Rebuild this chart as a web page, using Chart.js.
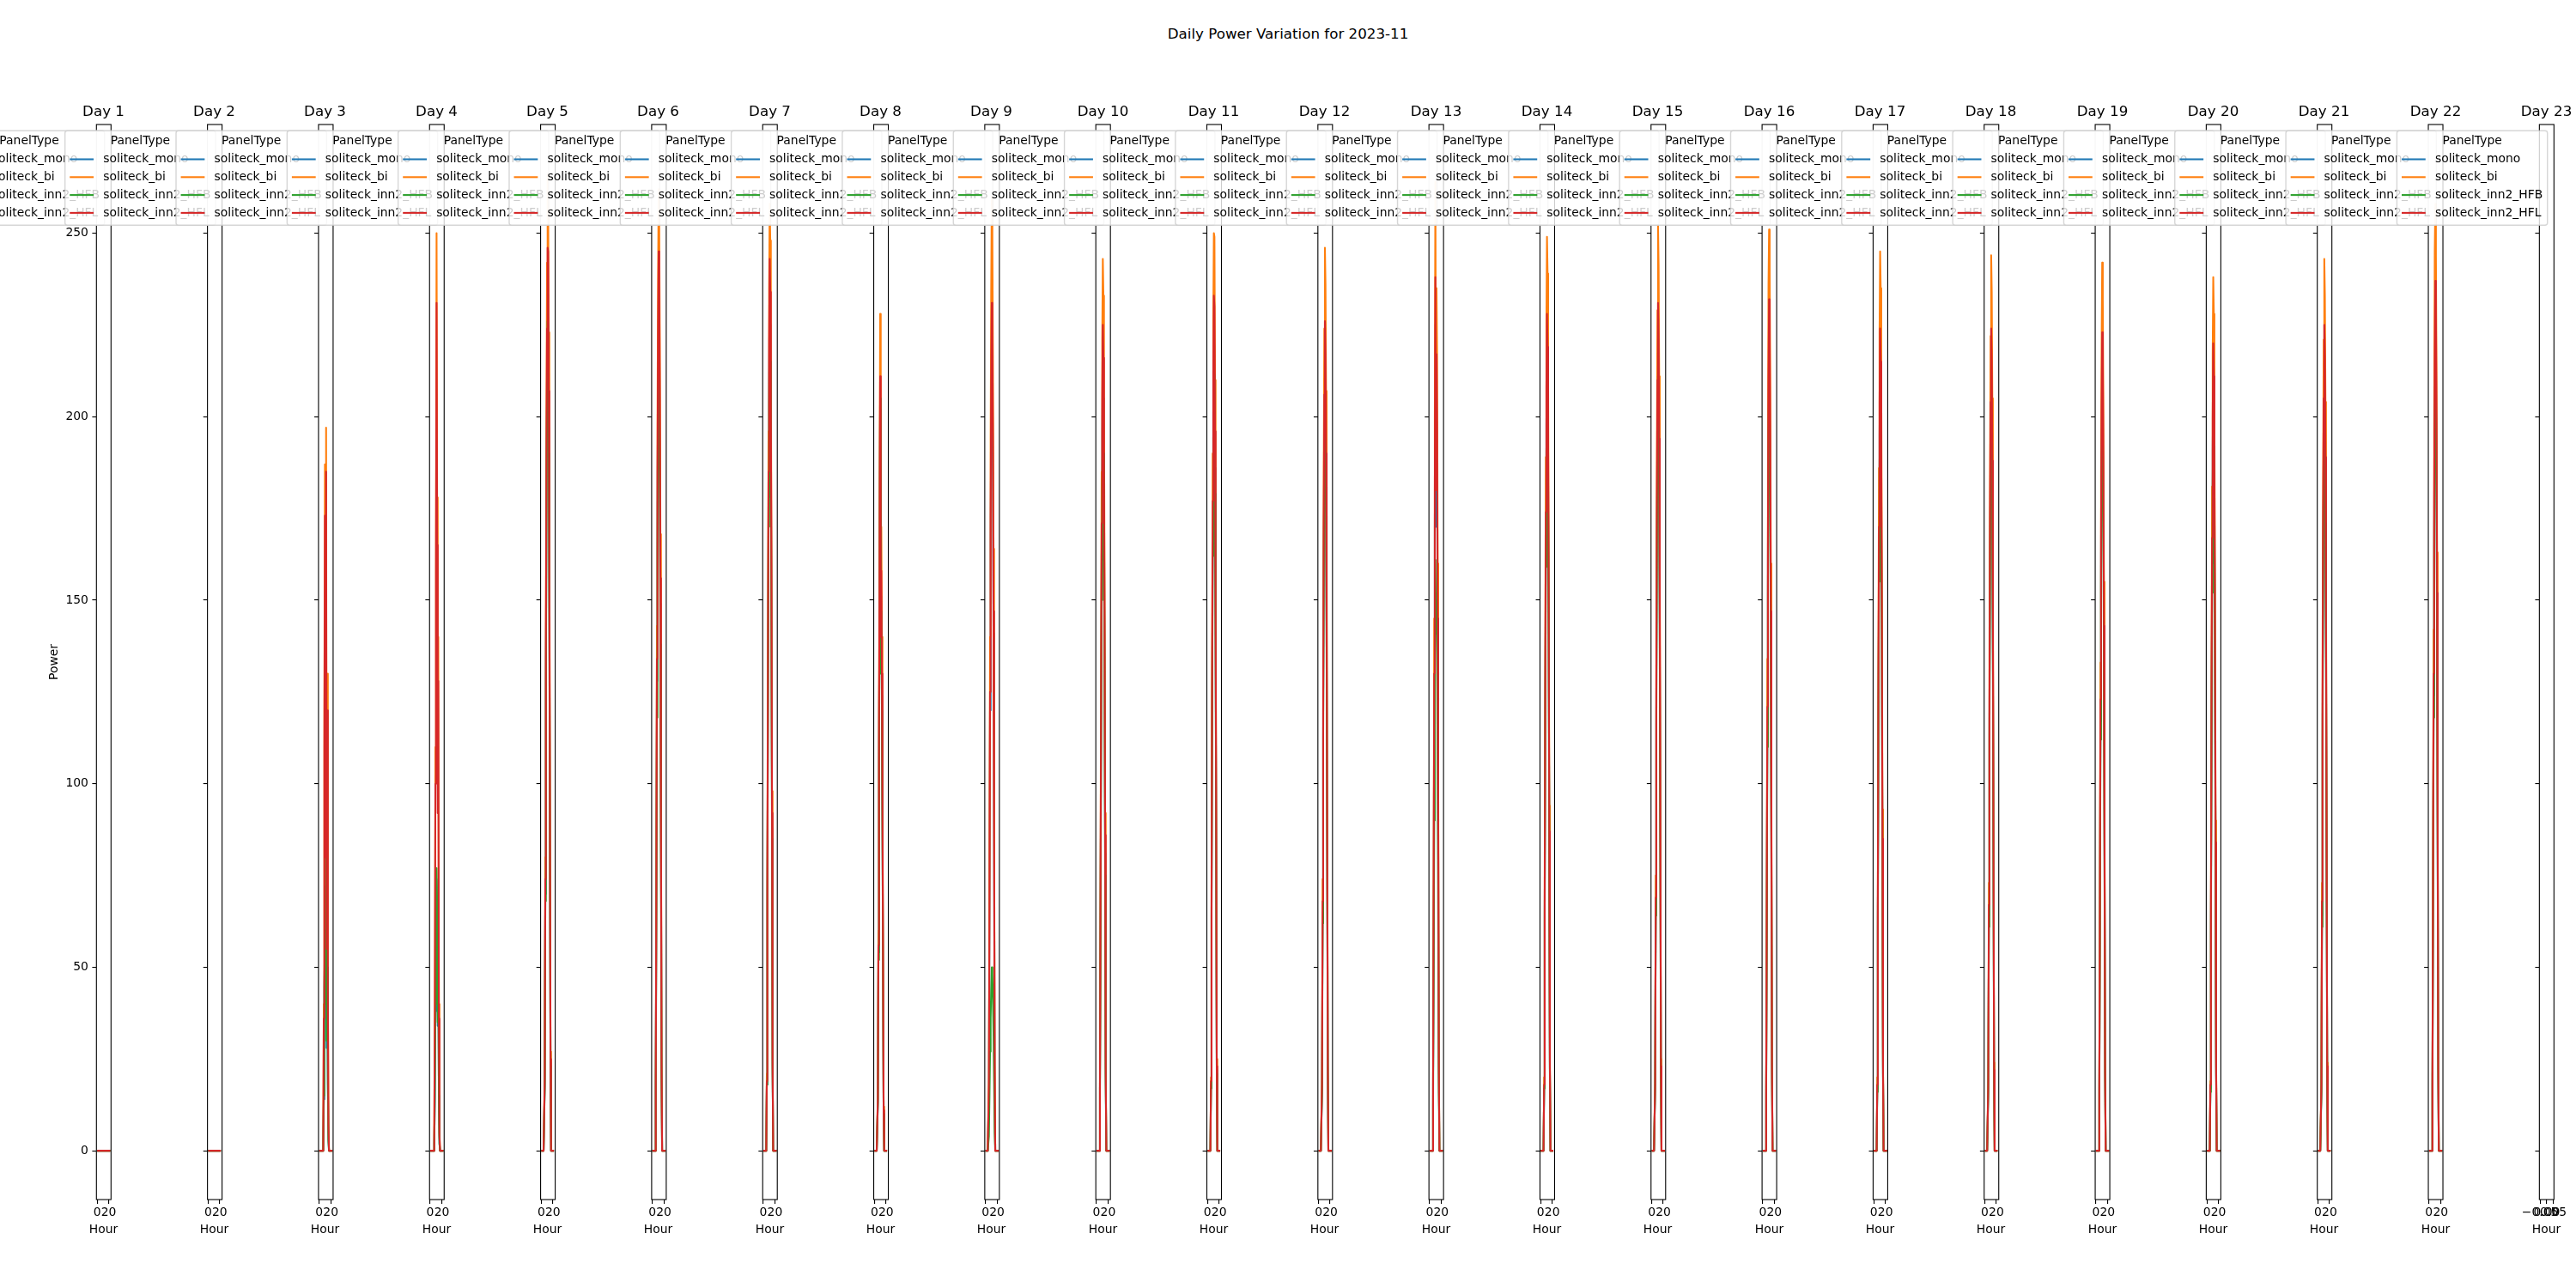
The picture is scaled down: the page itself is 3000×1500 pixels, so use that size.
<!DOCTYPE html>
<html><head><meta charset="utf-8">
<script src="https://cdn.jsdelivr.net/npm/chart.js@4.4.1/dist/chart.umd.min.js"></script>
<style>
html,body{margin:0;padding:0;background:#fff;}
body{width:3000px;height:1500px;position:relative;overflow:hidden;font-family:"DejaVu Sans",sans-serif;}
canvas{position:absolute;top:0;}
#suptitle{position:absolute;left:0;top:28.6px;width:3000px;text-align:center;font-size:16.7px;line-height:20px;color:#000;white-space:nowrap;}
</style></head><body>
<div id="suptitle">Daily Power Variation for 2023-11</div>
<script>
// ---------- data ----------
const chartTitle = 'Daily Power Variation for 2023-11';
const dayLabels = ['Day 1','Day 2','Day 3','Day 4','Day 5','Day 6','Day 7','Day 8','Day 9','Day 10','Day 11','Day 12','Day 13','Day 14','Day 15','Day 16','Day 17','Day 18','Day 19','Day 20','Day 21','Day 22','Day 23'];
const hours = [0,1,2,3,4,5,6,7,8,9,10,11,12,13,14,15,16,17,18,19,20,21,22,23];
const seriesNames = ['soliteck_mono','soliteck_bi','soliteck_inn2_HFB','soliteck_inn2_HFL'];
const seriesColors = ['#1f77b4','#ff7f0e','#2ca02c','#d62728'];
const legendTitle = 'PanelType';
const xAxisTitle = 'Hour';
const yAxisTitle = 'Power';
const yTicks = [0,50,100,150,200,250];
const hourTicks = [0,20];
const emptyDayTicks = [-0.05,0,0.05];
const emptyDayTickLabels = ['\u22120.05','0.00','0.05'];

const monoPower = [
[0,0,0,0,0,0,0,0,0,0,0,0,0,0,0,0,0,0,0,0,0,0,0,0],
[0,0,0,0,0,0,0,0,0,0,0,0,0,0,0,0,0,0,0,0,0,0,0,0],
[0,0,0,0,0,0,0,0,14,43,58,72,72,28,48,18,3,0,0,0,0,0,0,0],
[0,0,0,0,0,0,0,2,14,38,53,74,65,34,48,14,2,0,0,0,0,0,0,0],
[0,0,0,0,0,0,18,70,128,178,213,234,233,197,149,88,24,0,0,0,0,0,0,0],
[0,0,0,0,0,0,18,70,128,177,213,234,226,196,149,88,23,0,0,0,0,0,0,0],
[0,0,0,0,0,0,18,70,129,178,212,234,225,196,150,88,23,0,0,0,0,0,0,0],
[0,0,0,0,0,0,13,54,107,157,202,134,151,124,89,49,10,0,0,0,0,0,0,0],
[0,0,0,0,0,0,17,65,120,166,200,221,213,185,141,83,22,0,0,0,0,0,0,0],
[0,0,0,0,0,0,17,64,118,163,195,214,205,180,137,81,21,0,0,0,0,0,0,0],
[0,0,0,0,0,0,18,66,122,168,201,221,219,186,142,84,22,0,0,0,0,0,0,0],
[0,0,0,0,0,0,17,65,118,163,196,215,206,181,138,82,22,0,0,0,0,0,0,0],
[0,0,0,0,0,0,17,66,123,170,225,170,205,185,137,81,22,0,0,0,0,0,0,0],
[0,0,0,0,0,0,17,66,120,166,198,218,209,183,140,83,22,0,0,0,0,0,0,0],
[0,0,0,0,0,0,18,66,121,167,201,221,211,185,141,84,22,0,0,0,0,0,0,0],
[0,0,0,0,0,0,16,63,116,160,202,222,211,185,141,83,22,0,0,0,0,0,0,0],
[0,0,0,0,0,0,17,64,118,163,195,214,206,180,137,81,21,0,0,0,0,0,0,0],
[0,0,0,0,0,0,17,64,118,163,195,214,206,180,137,81,21,0,0,0,0,0,0,0],
[0,0,0,0,0,0,17,64,117,162,194,213,205,179,137,81,21,0,0,0,0,0,0,0],
[0,0,0,0,0,0,17,63,116,160,191,210,202,177,135,80,21,0,0,0,0,0,0,0],
[0,0,0,0,0,0,17,64,118,163,196,215,206,181,138,82,22,0,0,0,0,0,0,0],
[0,0,0,0,0,0,18,68,124,171,206,226,217,189,144,86,23,0,0,0,0,0,0,0],
[]
];
const biPower = [
[0,0,0,0,0,0,0,0,0,0,0,0,0,0,0,0,0,0,0,0,0,0,0,0],
[0,0,0,0,0,0,0,0,0,0,0,0,0,0,0,0,0,0,0,0,0,0,0,0],
[0,0,0,0,0,0,0,0,40,120,187,90,197,60,130,50,8,0,0,0,0,0,0,0],
[0,0,0,0,0,0,0,5,40,110,170,250,178,100,140,40,5,0,0,0,0,0,0,0],
[0,0,0,0,0,0,21,80,146,202,242,266,255,223,170,101,27,0,0,0,0,0,0,0],
[0,0,0,0,0,0,20,78,143,198,238,262,252,220,168,100,26,0,0,0,0,0,0,0],
[0,0,0,0,0,0,21,77,142,196,235,258,248,217,165,98,26,0,0,0,0,0,0,0],
[0,0,0,0,0,0,15,60,120,178,228,150,170,140,100,55,12,0,0,0,0,0,0,0],
[0,0,0,0,0,0,20,76,140,194,234,260,250,215,164,97,25,0,0,0,0,0,0,0],
[0,0,0,0,0,0,19,73,134,185,221,243,233,204,156,92,24,0,0,0,0,0,0,0],
[0,0,0,0,0,0,20,75,138,190,227,250,249,210,160,95,25,0,0,0,0,0,0,0],
[0,0,0,0,0,0,20,74,135,187,224,246,236,207,157,93,25,0,0,0,0,0,0,0],
[0,0,0,0,0,0,20,78,145,200,264,200,235,217,160,95,25,0,0,0,0,0,0,0],
[0,0,0,0,0,0,20,75,137,189,226,249,239,209,159,94,25,0,0,0,0,0,0,0],
[0,0,0,0,0,0,20,75,138,191,229,252,241,211,161,96,25,0,0,0,0,0,0,0],
[0,0,0,0,0,0,19,73,134,185,236,251,240,210,160,95,25,0,0,0,0,0,0,0],
[0,0,0,0,0,0,20,74,135,186,223,245,235,206,157,93,25,0,0,0,0,0,0,0],
[0,0,0,0,0,0,20,73,134,185,222,244,234,205,156,93,24,0,0,0,0,0,0,0],
[0,0,0,0,0,0,19,73,133,184,220,242,232,203,155,92,24,0,0,0,0,0,0,0],
[0,0,0,0,0,0,19,71,131,181,217,238,228,200,152,90,24,0,0,0,0,0,0,0],
[0,0,0,0,0,0,19,73,134,185,221,243,233,204,156,92,24,0,0,0,0,0,0,0],
[0,0,0,0,0,0,20,77,142,196,245,258,244,213,163,97,26,0,0,0,0,0,0,0],
[]
];
const hfbPower = [
[0,0,0,0,0,0,0,0,0,0,0,0,0,0,0,0,0,0,0,0,0,0,0,0],
[0,0,0,0,0,0,0,0,0,0,0,0,0,0,0,0,0,0,0,0,0,0,0,0],
[0,0,0,0,0,0,0,0,15,45,60,40,82,30,50,20,3,0,0,0,0,0,0,0],
[0,0,0,0,0,0,0,2,15,40,55,77,67,35,50,15,2,0,0,0,0,0,0,0],
[0,0,0,0,0,0,17,68,124,172,206,226,225,190,144,86,23,0,0,0,0,0,0,0],
[0,0,0,0,0,0,17,64,118,163,196,216,208,181,138,81,21,0,0,0,0,0,0,0],
[0,0,0,0,0,0,18,67,123,170,203,224,215,188,143,85,22,0,0,0,0,0,0,0],
[0,0,0,0,0,0,13,52,104,152,205,130,147,120,86,47,10,0,0,0,0,0,0,0],
[0,0,0,0,0,0,4,15,27,36,44,50,48,41,32,19,5,0,0,0,0,0,0,0],
[0,0,0,0,0,0,16,59,109,150,180,198,190,166,127,75,20,0,0,0,0,0,0,0],
[0,0,0,0,0,0,17,64,117,162,194,213,211,179,137,81,21,0,0,0,0,0,0,0],
[0,0,0,0,0,0,16,62,113,157,188,206,198,173,132,78,21,0,0,0,0,0,0,0],
[0,0,0,0,0,0,12,48,90,125,161,141,150,135,100,60,16,0,0,0,0,0,0,0],
[0,0,0,0,0,0,17,63,115,159,190,209,200,175,134,79,21,0,0,0,0,0,0,0],
[0,0,0,0,0,0,17,64,116,160,192,211,202,177,135,80,21,0,0,0,0,0,0,0],
[0,0,0,0,0,0,16,60,110,152,192,211,201,176,134,79,21,0,0,0,0,0,0,0],
[0,0,0,0,0,0,16,61,112,155,186,204,196,171,130,77,20,0,0,0,0,0,0,0],
[0,0,0,0,0,0,16,61,112,155,186,204,197,171,130,77,20,0,0,0,0,0,0,0],
[0,0,0,0,0,0,16,61,112,154,185,203,195,170,130,77,20,0,0,0,0,0,0,0],
[0,0,0,0,0,0,16,60,110,152,182,200,192,168,128,76,20,0,0,0,0,0,0,0],
[0,0,0,0,0,0,16,61,112,155,186,204,196,171,131,78,20,0,0,0,0,0,0,0],
[0,0,0,0,0,0,17,65,118,164,196,216,207,181,138,82,22,0,0,0,0,0,0,0],
[]
];
const hflPower = [
[0,0,0,0,0,0,0,0,0,0,0,0,0,0,0,0,0,0,0,0,0,0,0,0],
[0,0,0,0,0,0,0,0,0,0,0,0,0,0,0,0,0,0,0,0,0,0,0,0],
[0,0,0,0,0,0,0,0,36,110,173,80,185,55,120,45,7,0,0,0,0,0,0,0],
[0,0,0,0,0,0,0,4,36,100,158,231,165,92,128,36,4,0,0,0,0,0,0,0],
[0,0,0,0,0,0,19,74,135,187,224,246,245,207,157,93,25,0,0,0,0,0,0,0],
[0,0,0,0,0,0,19,73,134,185,222,245,236,205,156,92,24,0,0,0,0,0,0,0],
[0,0,0,0,0,0,19,73,134,185,221,243,234,204,156,92,24,0,0,0,0,0,0,0],
[0,0,0,0,0,0,14,56,112,164,211,140,158,130,93,51,11,0,0,0,0,0,0,0],
[0,0,0,0,0,0,18,68,125,173,209,231,222,193,147,87,23,0,0,0,0,0,0,0],
[0,0,0,0,0,0,18,68,124,171,205,225,216,189,144,86,23,0,0,0,0,0,0,0],
[0,0,0,0,0,0,19,70,128,177,212,233,230,196,149,89,23,0,0,0,0,0,0,0],
[0,0,0,0,0,0,18,68,124,172,206,226,217,190,145,86,23,0,0,0,0,0,0,0],
[0,0,0,0,0,0,18,70,130,180,238,180,217,196,145,86,23,0,0,0,0,0,0,0],
[0,0,0,0,0,0,18,69,126,174,208,228,219,192,146,87,23,0,0,0,0,0,0,0],
[0,0,0,0,0,0,18,69,127,175,210,231,221,194,148,88,23,0,0,0,0,0,0,0],
[0,0,0,0,0,0,17,66,121,167,211,232,221,193,147,87,23,0,0,0,0,0,0,0],
[0,0,0,0,0,0,18,67,123,170,204,224,215,188,143,85,22,0,0,0,0,0,0,0],
[0,0,0,0,0,0,18,67,123,170,204,224,215,188,143,85,22,0,0,0,0,0,0,0],
[0,0,0,0,0,0,18,67,123,169,203,223,214,187,143,85,22,0,0,0,0,0,0,0],
[0,0,0,0,0,0,18,66,121,167,200,220,211,185,141,84,22,0,0,0,0,0,0,0],
[0,0,0,0,0,0,18,68,124,171,205,225,216,189,144,86,23,0,0,0,0,0,0,0],
[0,0,0,0,0,0,19,71,130,180,216,237,228,199,152,90,24,0,0,0,0,0,0,0],
[]
];
const seriesData = [monoPower, biPower, hfbPower, hflPower];

// ---------- layout (pixels) ----------
const FONT = '"DejaVu Sans"';
const FS = 13.9, TFS = 16.7;
const AX0 = 112.3, AXSTEP = 129.32, AXW = 17, SIDE = 200, CW = 2*SIDE + AXW, CH = 1500;
const AX_TOP = 145, AX_BOTTOM = 1397;
const XAXIS_H = 25, HOUR_PAD_TOP = 1.66;
const Y_MIN = -13.3, Y_MAX = 279.6;
const HOUR_MIN = -1.15, HOUR_MAX = 24.15;
const EMPTY_MIN = -0.055, EMPTY_MAX = 0.055;

Chart.defaults.font.family = FONT;
Chart.defaults.color = '#000';

function drawLegend(chart){
  const {ctx, chartArea:a} = chart;
  ctx.save();
  ctx.font = FS + 'px ' + FONT;
  const bp = 0.4*FS, hl = 2*FS, htp = 0.8*FS;
  const tw = Math.max(...seriesNames.map(s => ctx.measureText(s).width));
  const w = bp + hl + htp + tw + bp;
  const h = 110;
  const right = a.right - 7.6, top = a.top + 7.3, left = right - w;
  const r = 2.8;
  ctx.beginPath();
  ctx.moveTo(left + r, top);
  ctx.lineTo(right - r, top); ctx.arcTo(right, top, right, top + r, r);
  ctx.lineTo(right, top + h - r); ctx.arcTo(right, top + h, right - r, top + h, r);
  ctx.lineTo(left + r, top + h); ctx.arcTo(left, top + h, left, top + h - r, r);
  ctx.lineTo(left, top + r); ctx.arcTo(left, top, left + r, top, r);
  ctx.closePath();
  ctx.fillStyle = 'rgba(255,255,255,0.8)';
  ctx.fill();
  ctx.strokeStyle = 'rgba(204,204,204,0.8)';
  ctx.lineWidth = 1.39;
  ctx.stroke();
  ctx.fillStyle = '#000';
  ctx.textBaseline = 'middle';
  ctx.textAlign = 'center';
  ctx.fillText(legendTitle, left + w/2, top + 12.2);
  ctx.textAlign = 'left';
  seriesNames.forEach((name, k) => {
    const y = top + 33.2 + k*20.8;
    ctx.strokeStyle = seriesColors[k];
    ctx.lineWidth = 2.08;
    ctx.beginPath();
    ctx.moveTo(left + bp, y); ctx.lineTo(left + bp + hl, y);
    ctx.stroke();
    ctx.fillText(name, left + bp + hl + htp, y);
  });
  ctx.restore();
}

const subplotPlugin = {
  id: 'subplotFrame',
  afterDatasetsDraw(chart){
    const {ctx, chartArea:a} = chart;
    ctx.save();
    ctx.strokeStyle = '#000';
    ctx.lineWidth = 1.1;
    ctx.strokeRect(a.left, a.top, a.right - a.left, a.bottom - a.top);
    ctx.restore();
  },
  afterDraw(chart){ drawLegend(chart); }
};

dayLabels.forEach((label, i) => {
  const axLeft = AX0 + i*AXSTEP;
  const cl = Math.floor(axLeft) - SIDE;
  const leftW = axLeft - cl;
  const rightW = CW - leftW - AXW;
  const canvas = document.createElement('canvas');
  canvas.width = CW; canvas.height = CH;
  canvas.style.left = cl + 'px';
  canvas.style.width = CW + 'px'; canvas.style.height = CH + 'px';
  document.body.appendChild(canvas);

  const hasData = monoPower[i].length > 0;
  const datasets = seriesNames.map((name, k) => ({
    label: name,
    data: seriesData[k][i].map((v, j) => ({x: hours[j], y: v})),
    borderColor: seriesColors[k],
    backgroundColor: seriesColors[k],
    borderWidth: 2.08,
    pointRadius: 0,
    tension: 0,
    fill: false,
    borderJoinStyle: 'round',
    borderCapStyle: 'butt',
    order: 3 - k
  }));
  const xTickVals = hasData ? hourTicks : emptyDayTicks;
  const isFirst = i === 0;
  const hourLine = FS*1.2;

  new Chart(canvas, {
    type: 'line',
    data: {datasets},
    options: {
      responsive: false,
      animation: false,
      devicePixelRatio: 1,
      events: [],
      layout: {padding: {left: 0, right: 0, top: 121, bottom: CH - AX_BOTTOM - XAXIS_H - hourLine - HOUR_PAD_TOP}},
      plugins: {
        legend: {display: false},
        tooltip: {enabled: false},
        title: {display: true, text: label, color: '#000', font: {size: TFS, weight: 'normal'}, padding: {top: 0, bottom: AX_TOP - 121 - TFS*1.2}},
        subtitle: {display: true, text: xAxisTitle, position: 'bottom', color: '#000', font: {size: FS, weight: 'normal'}, padding: {top: HOUR_PAD_TOP, bottom: 0}}
      },
      scales: {
        x: {
          type: 'linear', position: 'bottom',
          min: hasData ? HOUR_MIN : EMPTY_MIN,
          max: hasData ? HOUR_MAX : EMPTY_MAX,
          afterBuildTicks(s){ s.ticks = xTickVals.map(v => ({value: v})); },
          ticks: {
            autoSkip: false, maxRotation: 0, minRotation: 0, color: '#000', font: {size: FS}, padding: 2.3,
            callback(v){ if (hasData) return String(v); const idx = emptyDayTicks.findIndex(t => Math.abs(t - v) < 1e-9); return emptyDayTickLabels[idx]; }
          },
          grid: {drawOnChartArea: false, drawTicks: true, tickLength: 4.9, color: '#000', lineWidth: 1.1},
          border: {display: false},
          title: {display: false},
          afterFit(s){ s.height = XAXIS_H; }
        },
        y: {
          type: 'linear', position: 'left',
          min: Y_MIN, max: Y_MAX,
          afterBuildTicks(s){ s.ticks = yTicks.map(v => ({value: v})); },
          ticks: {display: isFirst, color: '#000', font: {size: FS}, padding: 4.5},
          grid: {drawOnChartArea: false, drawTicks: true, tickLength: 4.9, color: '#000', lineWidth: 1.1},
          border: {display: false},
          title: {display: isFirst, text: yAxisTitle, color: '#000', font: {size: FS}, padding: {top: (63.3 - cl) - FS*1.2/2, bottom: 0}},
          afterFit(s){ s.width = leftW; }
        },
        yR: {
          type: 'linear', position: 'right', display: true,
          grid: {display: false}, border: {display: false}, ticks: {display: false},
          afterFit(s){ s.width = rightW; }
        }
      }
    },
    plugins: [subplotPlugin]
  });
});
</script>
</body></html>
